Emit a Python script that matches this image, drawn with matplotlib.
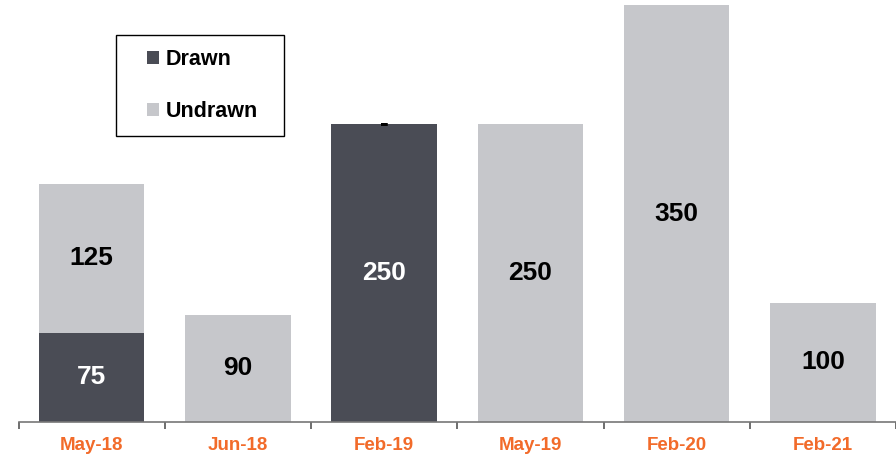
import numpy as np
import matplotlib.pyplot as plt
from matplotlib.patches import Rectangle

plt.rcParams['font.family'] = ['Liberation Sans', 'DejaVu Sans']

periods = ['May-18', 'Jun-18', 'Feb-19', 'May-19', 'Feb-20', 'Feb-21']
drawn = [75, 0, 250, 0, 0, 0]
undrawn = [125, 90, 0, 250, 350, 100]

dark = '#4a4c55'
light = '#c6c7cb'
orange = '#f26b2a'

W, H = 896, 457
fig = plt.figure(figsize=(W / 100, H / 100), dpi=100)
ax = fig.add_axes([18.5 / W, 35 / H, (W - 18.5) / W, 422 / H])

x = np.arange(len(periods))
b1 = ax.bar(x, drawn, width=0.72, color=dark, label='Drawn')
b2 = ax.bar(x, undrawn, width=0.72, bottom=drawn, color=light, label='Undrawn')

for i in range(len(periods)):
    if drawn[i] > 0:
        ax.text(x[i], drawn[i] / 2, str(drawn[i]), ha='center', va='center',
                fontsize=19, fontweight='bold', color='white')
    if undrawn[i] > 0:
        ax.text(x[i], drawn[i] + undrawn[i] / 2, str(undrawn[i]), ha='center',
                va='center', fontsize=19, fontweight='bold', color='black')
    elif drawn[i] > 0:
        ax.text(x[i], drawn[i], '-', ha='center', va='center',
                fontsize=19, fontweight='bold', color='black')

ax.set_xlim(-0.5, 5.45)
ax.set_ylim(0, 354.2)
for s in ['top', 'right', 'left']:
    ax.spines[s].set_visible(False)
ax.spines['bottom'].set_color('#777777')
ax.spines['bottom'].set_linewidth(1.2)
ax.set_yticks([])
ax.set_xticks(np.arange(-0.5, 6, 1))
ax.set_xticklabels([])
ax.set_xticks(x, minor=True)
ax.set_xticklabels(periods, minor=True, fontsize=13.5, fontweight='bold', color=orange)
ax.tick_params(axis='x', which='major', length=5, width=1.2, color='#555555', direction='out')
ax.tick_params(axis='x', which='minor', length=0, pad=11)

# legend box
fig.patches.append(Rectangle((116 / W, 1 - 136 / H), 168 / W, 101 / H,
                             transform=fig.transFigure, fill=False,
                             edgecolor='black', linewidth=1.0))
leg = fig.legend(handles=[b1, b2], loc='upper left',
                 bbox_to_anchor=(147 / W, 1 - 49 / H), frameon=False,
                 prop={'size': 15.5, 'weight': 'bold'}, handlelength=0.55,
                 handleheight=0.55, handletextpad=0.3, labelspacing=1.45,
                 borderpad=0, borderaxespad=0)

fig.savefig('out.png', dpi=100)
